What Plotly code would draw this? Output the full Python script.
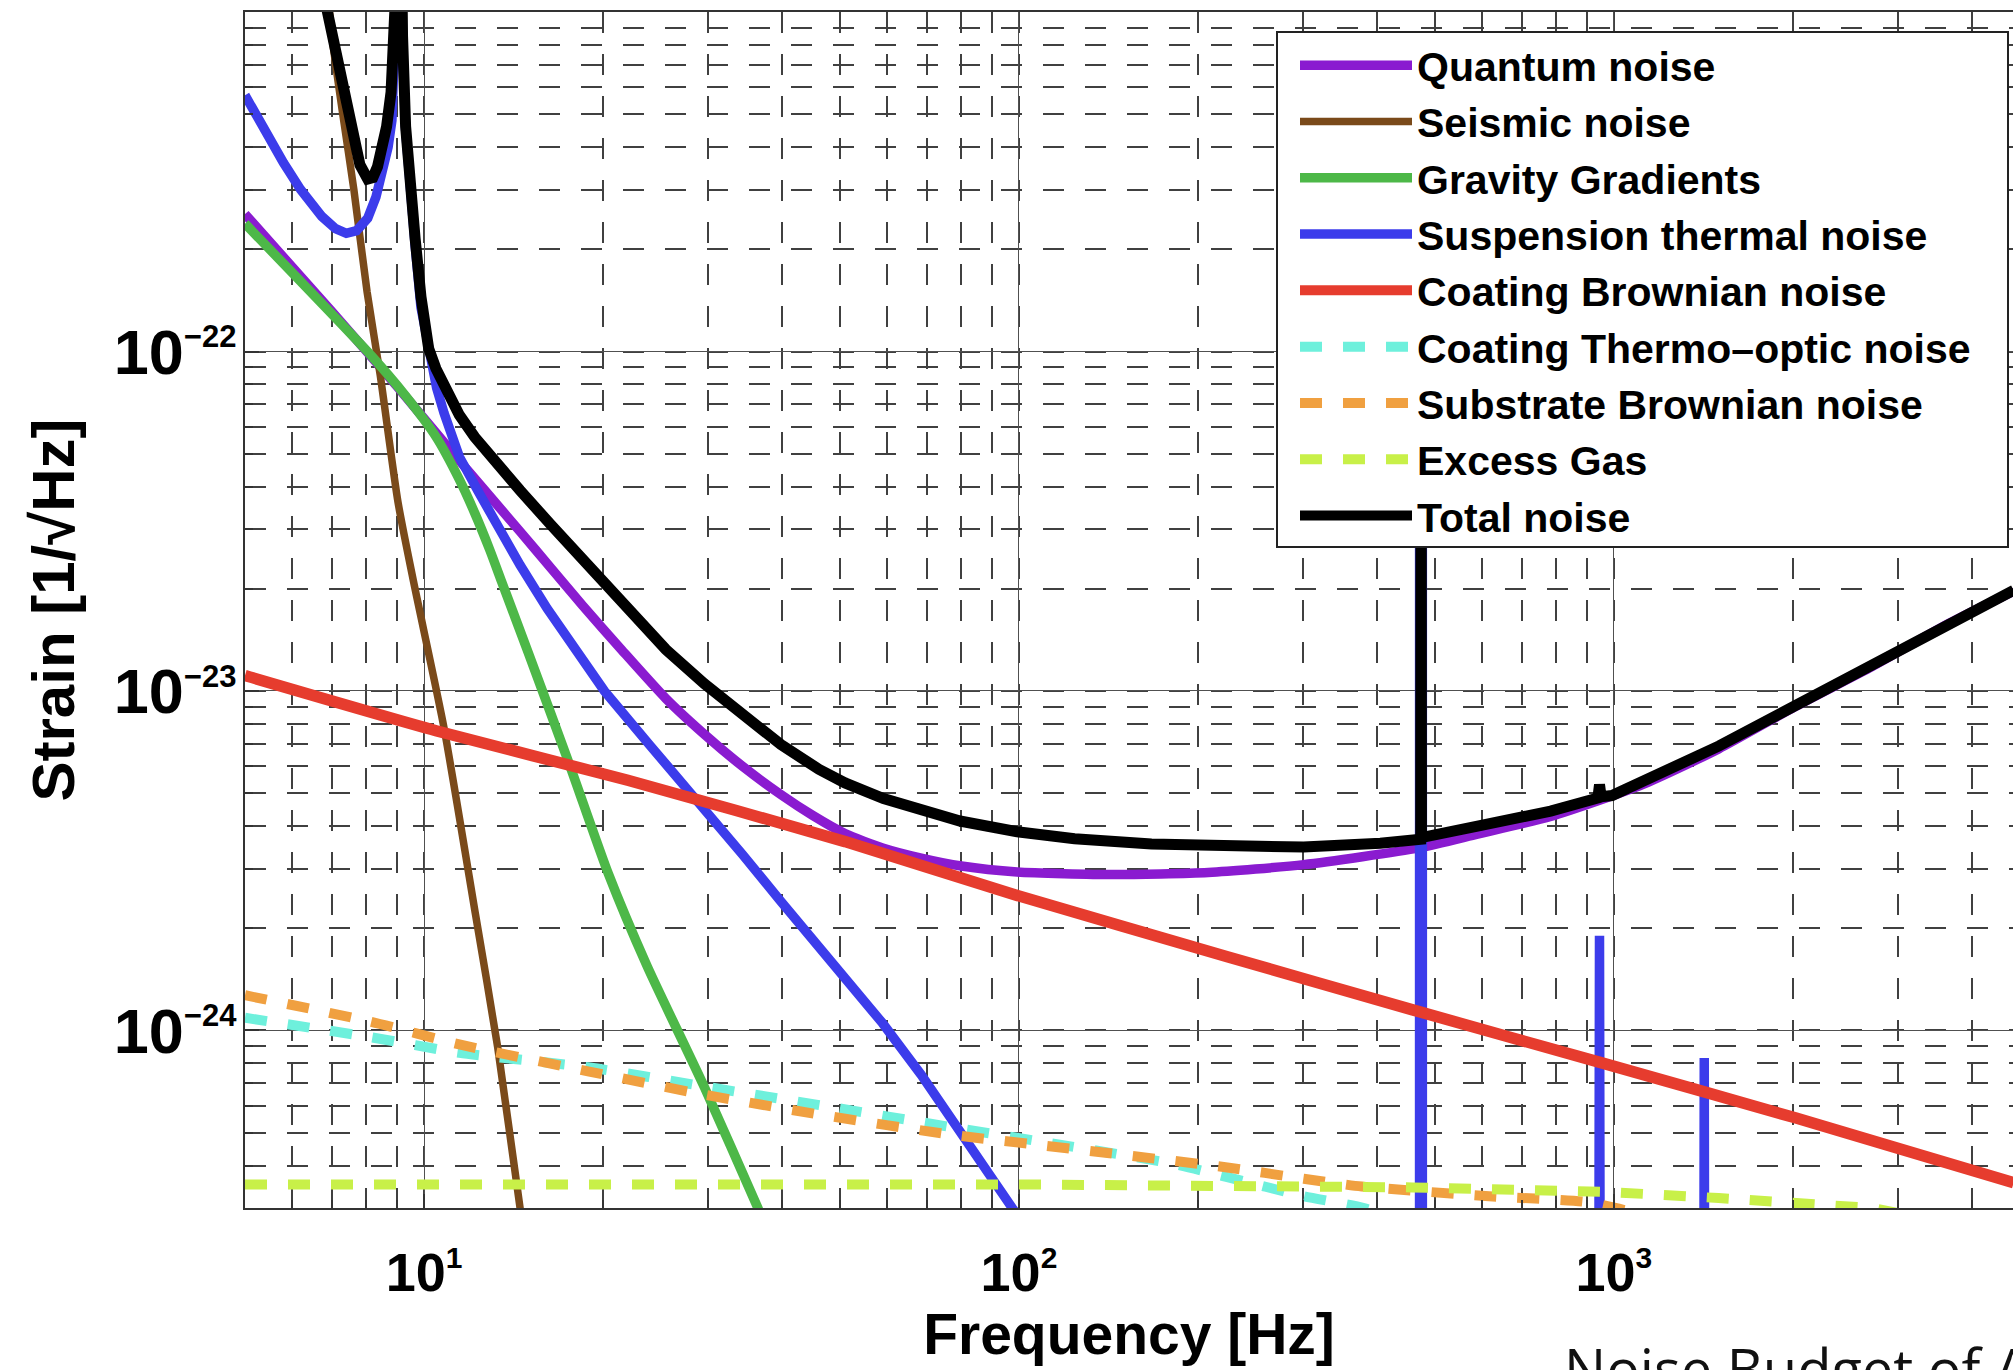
import plotly.graph_objects as go
import math

# ---------------- data (Hz, strain 1/sqrt(Hz)) ----------------
quantum_f = [5.0, 7.0, 9.0, 10.8, 12.34, 14.5, 16.35, 18.5, 21.5, 25.5, 30.0, 34.3, 39.8, 45, 51, 59, 68.5,
             80, 99.3, 144, 208, 301, 470, 590, 783, 1117, 1500, 2018, 2716, 3656, 4700]
quantum_h = [2.54e-22, 1.31e-22, 7.9e-23, 5.4e-23, 4.1e-23, 2.95e-23, 2.3e-23, 1.78e-23, 1.32e-23, 9.5e-24,
             7.3e-24, 6.0e-24, 4.95e-24, 4.3e-24, 3.8e-24, 3.45e-24, 3.22e-24, 3.05e-24, 2.93e-24,
             2.88e-24, 2.92e-24, 3.08e-24, 3.45e-24, 3.79e-24, 4.27e-24, 5.3e-24, 6.75e-24, 9.0e-24,
             1.18e-23, 1.58e-23, 1.97e-23]

seismic_f = [6.8, 7.0, 7.3, 7.62, 8.02, 8.44, 9.04, 9.6, 10.8, 12.2, 13.3, 14.5, 15.2]
seismic_h = [1.5e-21, 8.5e-22, 5.0e-22, 3.0e-22, 1.5e-22, 8.5e-23, 3.6e-23, 2.1e-23, 7.8e-24, 2.2e-24,
             8.9e-25, 3.0e-25, 1.8e-25]

gravity_f = [5.0, 8.16, 9.31, 10.48, 11.46, 12.16, 12.9, 13.5, 14.96, 17.6, 20.4, 23.7, 29.6, 36.4, 38.0]
gravity_h = [2.38e-22, 9.7e-23, 7.4e-23, 5.6e-23, 4.2e-23, 3.35e-23, 2.6e-23, 2.1e-23, 1.3e-23,
             6.0e-24, 2.9e-24, 1.55e-24, 6.8e-25, 3.0e-25, 2.5e-25]

suspension_f = [5.0, 5.4, 5.8, 6.2, 6.73, 7.1, 7.4, 7.7, 8.04, 8.3, 8.53, 8.7, 8.83, 8.93, 9.0, 9.06, 9.12,
                9.2, 9.31, 9.45, 9.66, 9.88, 10.2, 10.5, 10.8, 11.46, 12.3, 13.1, 14.5, 16.1, 18.0, 20.1,
                24.0, 29.6, 34.3, 39.8, 45, 51, 59, 68.5, 80, 96.5, 110, 300,
                471.4, 471.5, 476.5, 476.6, 940, 946, 952, 1412, 1419, 1426, 4700]
suspension_h = [5.69e-22, 4.45e-22, 3.6e-22, 3.0e-22, 2.5e-22, 2.3e-22, 2.23e-22, 2.27e-22, 2.47e-22,
                2.85e-22, 3.38e-22, 4.0e-22, 4.8e-22, 7e-22, 1.3e-21, 8e-21, 1.3e-21, 8e-22, 4.5e-22,
                3.0e-22, 2.05e-22, 1.35e-22, 9.7e-23, 7.8e-23, 6.6e-23, 4.9e-23, 3.9e-23, 3.2e-23,
                2.35e-23, 1.75e-23, 1.32e-23, 1.0e-23, 6.9e-24, 4.5e-24, 3.3e-24, 2.4e-24, 1.85e-24,
                1.42e-24, 1.05e-24, 7.4e-25, 5.0e-25, 3.05e-25, 2.2e-25, 1.5e-26,
                5e-27, 2e-22, 2e-22, 5e-27, 4e-27, 1.9e-24, 4e-27, 3e-27, 8.3e-25, 3e-27, 1e-27]

coating_brown_f = [5, 10.47, 22, 51, 99.3, 224, 459, 961, 2018, 4700]
coating_brown_h = [1.11e-23, 7.64e-24, 5.46e-24, 3.6e-24, 2.5e-24, 1.65e-24, 1.15e-24, 8.0e-25, 5.53e-25, 3.56e-25]

thermo_f = [5, 8.15, 11.46, 19, 29.6, 47.5, 77, 107, 180, 224, 301, 380, 480]
thermo_h = [1.09e-24, 9.55e-25, 8.6e-25, 7.78e-25, 6.84e-25, 5.98e-25, 5.19e-25, 4.73e-25, 4.06e-25,
            3.7e-25, 3.25e-25, 3.0e-25, 2.6e-25]

substrate_f = [5, 8.15, 11.46, 18.95, 29.6, 47.5, 77, 107, 155, 224, 301, 377, 617, 893, 1006, 1300]
substrate_h = [1.27e-24, 1.06e-24, 9.1e-25, 7.57e-25, 6.47e-25, 5.61e-25, 4.93e-25, 4.61e-25, 4.27e-25,
               3.95e-25, 3.66e-25, 3.47e-25, 3.25e-25, 3.13e-25, 3.0e-25, 2.7e-25]

gas_f = [5, 20, 100, 459, 961, 1500, 2344, 2716, 3000]
gas_h = [3.52e-25, 3.52e-25, 3.52e-25, 3.45e-25, 3.35e-25, 3.21e-25, 3.04e-25, 3.0e-25, 2.9e-25]

total_f = [6.55, 6.87, 7.1, 7.3, 7.45, 7.62, 7.8, 8.04, 8.2, 8.35, 8.5, 8.65, 8.8, 8.91, 8.99, 9.06, 9.13,
           9.2, 9.31, 9.45, 9.66, 9.88, 10.05, 10.18, 10.47, 10.8, 11.46, 12.16, 13.1, 14.5, 16.3, 17.9,
           19.8, 23.7, 25.5, 29.6, 34.3, 39.8, 46.1, 51, 59.2, 68.5, 79.6, 99.3, 124, 167, 208, 301, 405,
           473.5, 474.2, 474.9, 590, 783, 940, 946, 952, 993, 1503, 2018, 2716, 3656, 4700]
total_h = [1.5e-21, 1.0e-21, 7.6e-22, 6.0e-22, 5.0e-22, 4.1e-22, 3.55e-22, 3.22e-22, 3.25e-22, 3.5e-22,
           3.95e-22, 4.6e-22, 5.8e-22, 7.8e-22, 1.3e-21, 8e-21, 1.3e-21, 8.5e-22, 4.6e-22, 3.1e-22,
           2.15e-22, 1.45e-22, 1.15e-22, 1.02e-22, 8.9e-23, 7.9e-23, 6.5e-23, 5.6e-23, 4.75e-23, 3.9e-23,
           3.1e-23, 2.6e-23, 2.12e-23, 1.51e-23, 1.325e-23, 1.05e-23, 8.45e-24, 6.95e-24, 5.88e-24,
           5.36e-24, 4.82e-24, 4.43e-24, 4.14e-24, 3.85e-24, 3.67e-24, 3.54e-24, 3.49e-24, 3.47e-24,
           3.56e-24, 3.66e-24, 2e-22, 3.7e-24, 4.0e-24, 4.43e-24, 4.84e-24, 5.3e-24, 4.88e-24, 4.92e-24,
           6.89e-24, 9.1e-24, 1.19e-23, 1.59e-23, 1.98e-23]

x_range_hz = [5, 4688]
y_range = [3e-25, 1e-21]
x_tick_vals = [10, 100, 1000]
x_tick_exp = ["1", "2", "3"]
y_tick_vals = [1e-24, 1e-23, 1e-22]
y_tick_exp = ["\u221224", "\u221223", "\u221222"]

# ---------------- figure ----------------
FONT = "Liberation Sans, Arial, Helvetica, sans-serif"
DASH = "22px,21px"

series = [
    ("Quantum noise", quantum_f, quantum_h, "#8A1BD0", 9.5, "solid", "spline"),
    ("Seismic noise", seismic_f, seismic_h, "#7A4A1A", 7.5, "solid", "spline"),
    ("Gravity Gradients", gravity_f, gravity_h, "#4DB848", 9.5, "solid", "spline"),
    ("Suspension thermal noise", suspension_f, suspension_h, "#3C3CEB", 9.5, "solid", "linear"),
    ("Coating Brownian noise", coating_brown_f, coating_brown_h, "#E63C2E", 11.5, "solid", "spline"),
    ("Coating Thermo\u2013optic noise", thermo_f, thermo_h, "#6EF0DC", 10, DASH, "spline"),
    ("Substrate Brownian noise", substrate_f, substrate_h, "#F0A040", 10, DASH, "spline"),
    ("Excess Gas", gas_f, gas_h, "#C8F048", 10, DASH, "linear"),
    ("Total noise", total_f, total_h, "#000000", 11, "solid", "linear"),
]

fig = go.Figure()
for name, fx, hy, color, width, dash, shape in series:
    line = dict(color=color, width=width, dash=dash, shape=shape)
    if shape == "spline":
        line["smoothing"] = 0.6
    fig.add_trace(go.Scatter(x=fx, y=hy, mode="lines", name=name, line=line))

axis_common = dict(
    type="log",
    showgrid=True,
    gridcolor="#505050",
    gridwidth=1.3,
    griddash="solid",
    ticks="inside",
    ticklen=14,
    tickwidth=1.5,
    tickcolor="#333333",
    showline=True,
    linecolor="#333333",
    linewidth=2,
    zeroline=False,
    minor=dict(
        dtick="D1",
        showgrid=True,
        gridcolor="#404040",
        gridwidth=2,
        griddash="21px,21px",
        ticks="inside",
        ticklen=8,
        tickcolor="#333333",
    ),
)


def sup_label(exp, size):
    return '10<sup><span style="font-size:%dpx">%s</span></sup>' % (size, exp)


fig.update_xaxes(
    **axis_common,
    range=[math.log10(x_range_hz[0]), math.log10(x_range_hz[1])],
    mirror=True,
    tickmode="array",
    tickvals=x_tick_vals,
    ticktext=[sup_label(e, 30) for e in x_tick_exp],
    tickfont=dict(family=FONT, size=54, color="black", weight="bold"),
    ticklabelstandoff=16,
    title=dict(text="Frequency [Hz]", font=dict(family=FONT, size=57, color="black", weight="bold"),
               standoff=12),
)
fig.update_yaxes(
    **axis_common,
    range=[math.log10(y_range[0]), math.log10(y_range[1])],
    mirror=False,
    tickmode="array",
    tickvals=y_tick_vals,
    ticktext=[sup_label(e, 31) for e in y_tick_exp],
    tickfont=dict(family=FONT, size=63, color="black", weight="bold"),
    ticklabelstandoff=-6,
    title=dict(text="Strain [1/\u221aHz]", font=dict(family=FONT, size=60, color="black", weight="bold"),
               standoff=20),
)

# plot area in pixels: x 245..2013, y 12..1208
def px_x(p):
    return (p - 245) / 1768.0


def px_y(p):
    return 1 - (p - 12) / 1196.0


fig.update_layout(
    width=2013,
    height=1370,
    margin=dict(l=245, r=0, t=12, b=162, pad=0),
    paper_bgcolor="white",
    plot_bgcolor="white",
    showlegend=True,
    legend=dict(
        x=px_x(1295), y=px_y(32), xanchor="left", yanchor="top",
        bgcolor="rgba(0,0,0,0)", borderwidth=0,
        font=dict(family=FONT, size=41, color="black", weight="bold"),
        itemwidth=112, tracegroupgap=0,
    ),
    shapes=[
        dict(type="rect", xref="paper", yref="paper",
             x0=px_x(1277), x1=px_x(2008), y0=px_y(547), y1=px_y(32),
             fillcolor="white", line=dict(color="#222222", width=2), layer="above"),
    ],
    annotations=[
        dict(text="Noise Budget of Advanced LIGO", xref="paper", yref="paper", x=px_x(1562), y=0,
             xanchor="left", yanchor="top", yshift=-120, showarrow=False,
             font=dict(family="Open Sans, Noto Sans, sans-serif", size=56, color="#111111")),
    ],
)

fig.write_html("out.html")
